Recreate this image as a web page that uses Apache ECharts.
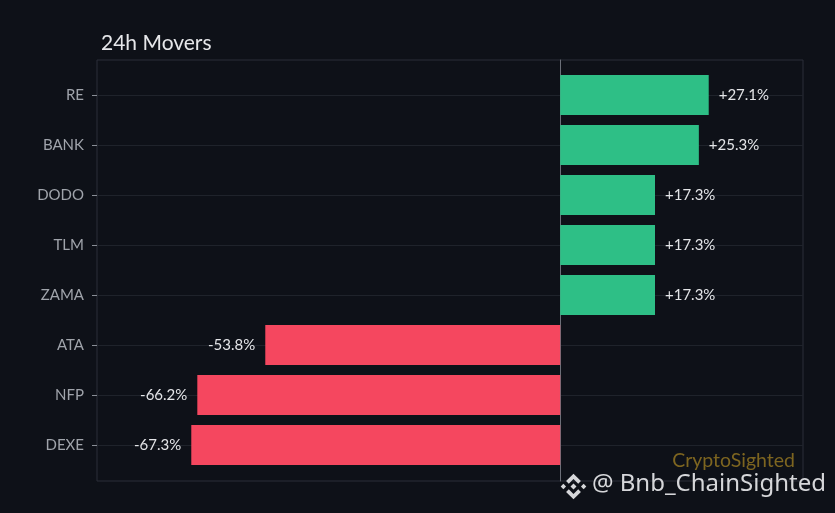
<!DOCTYPE html>
<html><head><meta charset="utf-8">
<script src="https://cdn.jsdelivr.net/npm/echarts@6/dist/echarts.min.js"></script>
<style>html,body{margin:0;padding:0;background:#0e1118;}#c{width:835px;height:513px;}</style>
</head><body><div id="c"></div>
<script>
const categories = ['RE','BANK','DODO','TLM','ZAMA','ATA','NFP','DEXE'];
const changes = [27.1, 25.3, 17.3, 17.3, 17.3, -53.8, -66.2, -67.3];
const GREEN = '#2ebf86', RED = '#f5475f';
const FONT = 'Lato, "Noto Sans", sans-serif';
const xMin = -84.5, xMax = 44.3;

const S = 13.5;
function pts(arr){ return arr.map(p => [p[0]*S, p[1]*S]); }
const LOGO = '#d6d7da';

const chart = echarts.init(document.getElementById('c'), null, {renderer:'canvas'});
chart.setOption({
  backgroundColor: '#0e1118',
  animation: false,
  title: {text: '24h Movers', left: 96, top: 28,
    textStyle: {color: '#e6e7ea', fontSize: 21, fontWeight: 'normal', fontFamily: FONT}},
  grid: [
    {left: 97, right: 32, top: 60, bottom: 32, show: true, borderColor: '#2b2f38', borderWidth: 1, backgroundColor: 'transparent'},
    {left: 97, right: 32, top: 95, bottom: 68, show: false}
  ],
  xAxis: [
    {gridIndex: 0, type: 'value', min: xMin, max: xMax, show: true,
     axisLine: {show: false}, axisTick: {show: false}, axisLabel: {show: false}, splitLine: {show: false}},
    {gridIndex: 1, type: 'value', min: xMin, max: xMax, show: true,
     axisLine: {show: false}, axisTick: {show: false}, axisLabel: {show: false}, splitLine: {show: false}}
  ],
  yAxis: [
    {gridIndex: 0, type: 'value', min: 0, max: 1, show: true,
     axisLine: {show: true, onZero: true, lineStyle: {color: '#6b6f78', width: 1}},
     axisTick: {show: false}, axisLabel: {show: false}, splitLine: {show: false}},
    {gridIndex: 1, type: 'category', data: categories, inverse: true, boundaryGap: false,
     axisLine: {show: false, onZero: false},
     axisTick: {show: true, length: 5, lineStyle: {color: '#8a8e96'}},
     axisLabel: {color: '#a0a4ab', fontSize: 15, margin: 13, fontFamily: FONT},
     splitLine: {show: true, lineStyle: {color: '#1f232b', width: 1}}}
  ],
  series: [{
    type: 'bar', xAxisIndex: 1, yAxisIndex: 1, barWidth: 40,
    data: changes.map(v => ({value: v, itemStyle: {color: v >= 0 ? GREEN : RED},
      label: {position: v >= 0 ? 'right' : 'left'}})),
    label: {show: true, distance: 10, color: '#e4e5e8', fontSize: 15, fontFamily: FONT,
      formatter: p => (p.value >= 0 ? '+' : '') + p.value.toFixed(1) + '%'}
  }],
  graphic: [
    {type: 'text', right: 40, top: 451, style: {text: 'CryptoSighted', fill: '#7d6520', fontSize: 19.5, fontFamily: FONT}},
    {type: 'text', right: 9, top: 472, style: {text: '@ Bnb_ChainSighted', fill: '#d6d7da', fontSize: 24, fontFamily: '"Noto Sans", sans-serif'}},
    {type: 'group', x: 573.5, y: 486.5, children: [
      {type: 'polygon', shape: {points: pts([[0,-0.22],[0.22,0],[0,0.22],[-0.22,0]])}, style: {fill: LOGO}},
      {type: 'polygon', shape: {points: pts([[-0.75,-0.2],[-0.55,0],[-0.75,0.2],[-0.95,0]])}, style: {fill: LOGO}},
      {type: 'polygon', shape: {points: pts([[0.75,-0.2],[0.95,0],[0.75,0.2],[0.55,0]])}, style: {fill: LOGO}},
      {type: 'polygon', shape: {points: pts([[0,-0.95],[0.55,-0.4],[0.35,-0.2],[0,-0.55],[-0.35,-0.2],[-0.55,-0.4]])}, style: {fill: LOGO}},
      {type: 'polygon', shape: {points: pts([[0,0.95],[0.55,0.4],[0.35,0.2],[0,0.55],[-0.35,0.2],[-0.55,0.4]])}, style: {fill: LOGO}}
    ]}
  ]
});
</script></body></html>
